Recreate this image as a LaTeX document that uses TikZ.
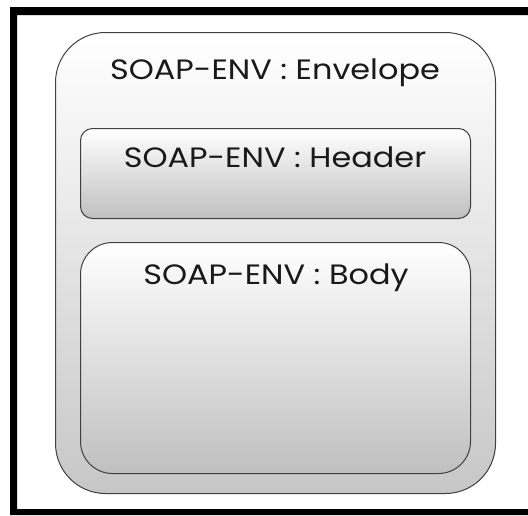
\documentclass[tikz,border=0pt]{standalone}
\usepackage{fontspec}
\setmainfont{Poppins}[FakeStretch=1.14]
\begin{document}
\begin{tikzpicture}[x=1pt,y=-1pt,
  box/.style={draw=black!75, line width=1pt, anchor=north west, inner sep=0pt},
  caption/.style={font=\fontsize{28}{32}\selectfont, text=black!90, inner sep=0pt}]
\useasboundingbox (0,0) rectangle (528,515);
% heavy outer frame: top, left and bottom sides (the right one lies past the edge)
\fill (528,7) -- (10,7) -- (10,515) -- (528,515) -- (528,509) -- (17,509)
      -- (17,15) -- (528,15) -- cycle;
% envelope
\node[box, rounded corners=50pt, minimum width=440pt, minimum height=461pt,
      top color=white, bottom color=black!22] (env) at (55,32) {};
\node[caption] (envtxt) at (275,73) {SOAP-ENV : Envelope};
% header
\node[box, rounded corners=12pt, minimum width=390pt, minimum height=90pt,
      top color=white, bottom color=black!25] (hdr) at (80,128) {};
\node[caption] (hdrtxt) at (275,157) {SOAP-ENV : Header};
% body
\node[box, rounded corners=32pt, minimum width=390pt, minimum height=231pt,
      top color=white, bottom color=black!25] (body) at (80,242) {};
\node[caption] (bodytxt) at (276,278) {SOAP-ENV : Body};
\end{tikzpicture}
\end{document}
